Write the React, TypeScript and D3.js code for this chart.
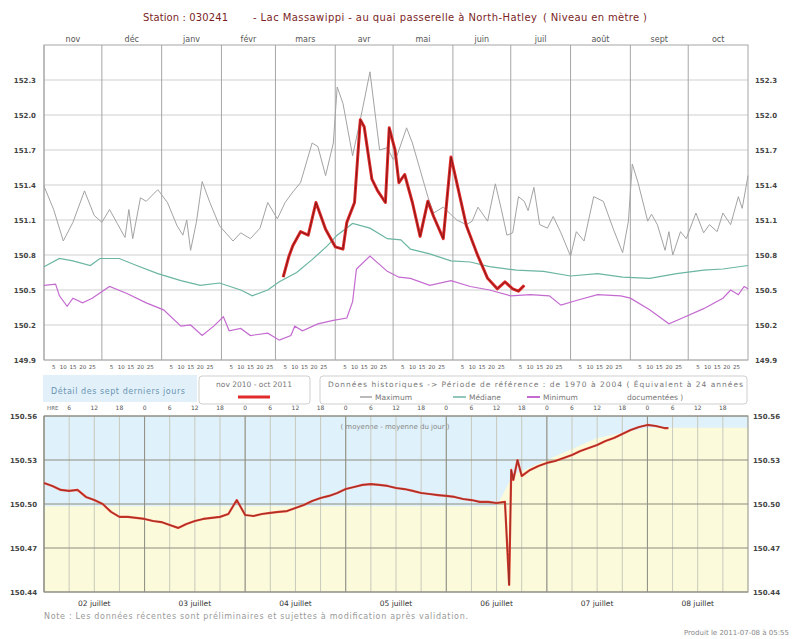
import React from 'react';
import * as d3 from 'd3';

// --- annual chart (days since 2010-11-01, level in m) ---
const monthLabels = ['nov', 'déc', 'janv', 'févr', 'mars', 'avr', 'mai', 'juin', 'juil', 'août', 'sept', 'oct'];
const levelTicks = ['149.9', '150.2', '150.5', '150.8', '151.1', '151.4', '151.7', '152.0', '152.3'];
const dayTicks = [5, 10, 15, 20, 25];

const maxDays = [0, 5, 10, 15, 21, 26, 30, 34, 38, 42, 44, 46, 50, 53, 59, 64, 69, 72, 74, 76, 79, 82, 86, 91, 98, 102, 107, 112, 116, 121, 125, 129, 133, 139, 142, 146, 150, 152, 155, 160, 165, 169, 174, 178, 181, 183, 188, 191, 195, 199, 202, 207, 214, 219, 222, 225, 230, 234, 237, 240, 243, 246, 249, 251, 254, 257, 261, 264, 268, 273, 276, 280, 285, 290, 295, 300, 303, 305, 308, 313, 315, 318, 322, 324, 326, 330, 333, 338, 342, 345, 349, 352, 356, 360, 362, 365];
const maxLevel = [151.39, 151.19, 150.92, 151.08, 151.35, 151.14, 151.08, 151.19, 151.07, 150.95, 151.19, 150.94, 151.29, 151.26, 151.36, 151.25, 151.05, 150.97, 151.10, 150.84, 151.08, 151.43, 151.25, 151.05, 150.92, 150.99, 150.94, 151.03, 151.25, 151.11, 151.25, 151.34, 151.42, 151.76, 151.73, 151.48, 151.76, 152.24, 152.10, 151.65, 152.04, 152.37, 151.70, 151.72, 151.62, 151.65, 151.89, 151.76, 151.53, 151.30, 151.16, 151.21, 151.10, 151.06, 151.09, 151.21, 151.09, 151.41, 151.20, 150.97, 150.99, 151.30, 151.26, 151.18, 151.38, 151.06, 151.03, 151.13, 150.99, 150.79, 151.00, 150.92, 151.30, 151.26, 151.03, 150.82, 151.09, 151.58, 151.42, 151.09, 151.15, 151.06, 150.84, 151.00, 150.80, 151.00, 150.94, 151.16, 150.99, 151.06, 151.00, 151.16, 151.06, 151.30, 151.20, 151.48];

const medDays = [0, 8, 15, 24, 29, 39, 48, 59, 71, 81, 91, 102, 108, 116, 122, 131, 139, 147, 152, 160, 169, 178, 185, 190, 200, 211, 221, 231, 245, 259, 273, 287, 300, 314, 328, 342, 352, 365];
const medLevel = [150.70, 150.77, 150.75, 150.71, 150.77, 150.77, 150.71, 150.64, 150.58, 150.54, 150.56, 150.50, 150.45, 150.50, 150.57, 150.65, 150.76, 150.88, 150.97, 151.07, 151.03, 150.94, 150.93, 150.85, 150.81, 150.75, 150.74, 150.70, 150.67, 150.66, 150.62, 150.64, 150.61, 150.60, 150.64, 150.67, 150.68, 150.71];

const minDays = [0, 6, 8, 12, 15, 20, 25, 34, 43, 53, 62, 71, 76, 82, 88, 93, 96, 102, 107, 116, 122, 128, 130, 134, 142, 150, 157, 160, 162, 169, 178, 184, 190, 200, 211, 221, 231, 242, 252, 262, 268, 276, 287, 299, 304, 314, 324, 331, 342, 352, 356, 360, 363, 365];
const minLevel = [150.54, 150.55, 150.45, 150.36, 150.43, 150.39, 150.43, 150.53, 150.47, 150.39, 150.33, 150.19, 150.20, 150.11, 150.19, 150.27, 150.15, 150.17, 150.11, 150.13, 150.07, 150.11, 150.19, 150.15, 150.21, 150.24, 150.26, 150.40, 150.68, 150.79, 150.66, 150.61, 150.60, 150.54, 150.58, 150.53, 150.50, 150.45, 150.46, 150.45, 150.37, 150.41, 150.46, 150.45, 150.43, 150.33, 150.21, 150.26, 150.34, 150.43, 150.50, 150.46, 150.53, 150.51];

const curDays = [124, 127, 129, 133, 137, 141, 146, 151, 155, 157, 161, 164, 166, 170, 173, 177, 179, 182, 184, 187, 191, 195, 199, 202, 207, 211, 214, 219, 225, 230, 235, 239, 243, 246, 249];
const curLevel = [150.61, 150.79, 150.88, 151.00, 150.97, 151.25, 151.02, 150.87, 150.85, 151.08, 151.25, 151.96, 151.90, 151.45, 151.35, 151.25, 151.89, 151.70, 151.42, 151.49, 151.25, 150.96, 151.26, 151.13, 150.94, 151.64, 151.42, 151.05, 150.79, 150.60, 150.51, 150.57, 150.51, 150.49, 150.54];

// --- last seven days (hours since 2011-07-02 00:00) ---
const detailTicks = ['150.44', '150.47', '150.50', '150.53', '150.56'];
const dayNames = ['02 juillet', '03 juillet', '04 juillet', '05 juillet', '06 juillet', '07 juillet', '08 juillet'];
const detailHours = [0, 2, 4, 6, 8, 10, 12, 14, 16, 18, 20, 22, 24, 26, 28, 30, 32, 34, 36, 38, 40, 42, 44, 46, 48, 50, 52, 54, 56, 58, 60, 62, 64, 66, 68, 70, 72, 74, 76, 78, 80, 82, 84, 86, 88, 90, 92, 94, 96, 98, 100, 102, 104, 106, 108, 110, 111, 111.5, 112, 113, 114, 116, 118, 120, 122, 124, 126, 128, 130, 132, 134, 136, 138, 140, 142, 144, 146, 148, 149];
const detailLevel = [150.5143, 150.5123, 150.5096, 150.5089, 150.5096, 150.5048, 150.5027, 150.5000, 150.4946, 150.4912, 150.4912, 150.4905, 150.4898, 150.4884, 150.4877, 150.4857, 150.4837, 150.4864, 150.4884, 150.4898, 150.4905, 150.4912, 150.4932, 150.5027, 150.4925, 150.4918, 150.4932, 150.4939, 150.4946, 150.4952, 150.4973, 150.4993, 150.5021, 150.5041, 150.5055, 150.5075, 150.5102, 150.5116, 150.5130, 150.5136, 150.5130, 150.5123, 150.5109, 150.5102, 150.5089, 150.5075, 150.5068, 150.5061, 150.5055, 150.5048, 150.5034, 150.5027, 150.5014, 150.5014, 150.5007, 150.5014, 150.4448, 150.5232, 150.5164, 150.5300, 150.5191, 150.5232, 150.5259, 150.5280, 150.5293, 150.5314, 150.5334, 150.5361, 150.5382, 150.5402, 150.5430, 150.5450, 150.5477, 150.5505, 150.5525, 150.5539, 150.5532, 150.5518, 150.5518];
const refHours = [0, 108, 112, 120, 132, 144, 168];
const refLevel = [150.4985, 150.4985, 150.520, 150.530, 150.545, 150.552, 150.552];

const FONT = 'DejaVu Sans, Verdana, sans-serif';

export default function App() {
  const L = 44, R = 748;
  const start = new Date(2010, 10, 1);
  const x = d3.scaleTime().domain([start, new Date(2011, 10, 1)]).range([L, R]);
  const y = d3.scaleLinear().domain([149.9, 152.6]).range([360, 45]);
  const dayX = (d: number) => x(d3.timeDay.offset(start, d));

  const mkLine = (days: number[], vals: number[]) =>
    d3.line<number>().x((_, i) => dayX(days[i])).y(v => y(v))(vals) || '';

  const dStart = new Date(2011, 6, 2);
  const x2 = d3.scaleTime().domain([dStart, new Date(2011, 6, 9)]).range([L, R]);
  const y2 = d3.scaleLinear().domain([150.44, 150.56]).range([592, 416]);
  const hx = (h: number) => x2(d3.timeMinute.offset(dStart, h * 60));
  const detailPath = d3.line<number>().x((_, i) => hx(detailHours[i])).y(v => y2(v))(detailLevel) || '';
  const refArea = d3.area<number>().x((_, i) => hx(refHours[i])).y0(592).y1(v => y2(v))(refLevel) || '';

  const months = d3.timeMonth.range(start, new Date(2011, 10, 1));
  const days7 = d3.timeDay.range(dStart, new Date(2011, 6, 9));
  const sixHours = d3.timeHour.every(6)!.range(dStart, new Date(2011, 6, 9));

  return (
    <svg width={794} height={639} style={{ display: 'block', fontFamily: FONT }}>
      <style>{'body{margin:0}'}</style>
      <rect width={794} height={639} fill="#fff" />

      {/* title */}
      <g fill="#7b1f1f" fontSize={10}>
        <text x={143} y={21} textLength={85}>Station : 030241</text>
        <text x={253} y={21} textLength={284}>-   Lac Massawippi - au quai passerelle à North-Hatley</text>
        <text x={543} y={21} textLength={104}>( Niveau en mètre )</text>
      </g>

      {/* month labels */}
      {months.map((m, i) => (
        <text key={'m' + i} x={(x(m) + x(d3.timeMonth.offset(m, 1))) / 2} y={42} fontSize={8} fill="#555" textAnchor="middle">
          {monthLabels[i]}
        </text>
      ))}

      {/* top grid */}
      {levelTicks.map(t => (
        <line key={'h' + t} x1={L} x2={R} y1={y(+t)} y2={y(+t)} stroke="#cfcfcf" />
      ))}
      {months.map((m, i) => (
        <line key={'v' + i} x1={x(m)} x2={x(m)} y1={45} y2={360} stroke="#a6a6a6" />
      ))}
      <rect x={L} y={45} width={R - L} height={315} fill="none" stroke="#a6a6a6" />

      {levelTicks.map(t => (
        <g key={'lt' + t} fontSize={7} fill="#444" fontWeight="bold">
          <text x={36} y={y(+t) + 3} textAnchor="end">{t}</text>
          <text x={755} y={y(+t) + 3}>{t}</text>
        </g>
      ))}
      {months.map((m, i) =>
        dayTicks.map(d => (
          <text key={'dt' + i + '-' + d} x={x(d3.timeDay.offset(m, d - 1)) + 2} y={369} fontSize={5.5} fill="#555" textAnchor="middle">
            {d}
          </text>
        ))
      )}

      {/* series */}
      <path d={mkLine(maxDays, maxLevel)} fill="none" stroke="#a3a3a3" strokeWidth={1} />
      <path d={mkLine(medDays, medLevel)} fill="none" stroke="#6bb5a3" strokeWidth={1.2} />
      <path d={mkLine(minDays, minLevel)} fill="none" stroke="#c46ad0" strokeWidth={1.2} />
      <path d={mkLine(curDays, curLevel)} fill="none" stroke="#e12a2a" strokeWidth={3} strokeLinejoin="round" />
      <path d={mkLine(curDays, curLevel)} fill="none" stroke="#7a1515" strokeWidth={0.9} strokeLinejoin="round" />

      {/* legend row */}
      <rect x={43} y={375} width={154} height={27} fill="#e2f1f9" />
      <text x={118} y={394} fontSize={8} fill="#6b93b3" textAnchor="middle" textLength={134}>Détail des sept derniers jours</text>

      <rect x={199} y={376} width={111} height={28} rx={3} fill="#fff" stroke="#cfcfcf" />
      <text x={254} y={387} fontSize={7.5} fill="#777" textAnchor="middle">nov 2010 - oct 2011</text>
      <line x1={238} x2={270} y1={397} y2={397} stroke="#e12a2a" strokeWidth={3} />

      <rect x={320} y={376} width={427} height={28} rx={3} fill="#fff" stroke="#cfcfcf" />
      <text x={328} y={387} fontSize={7.5} fill="#777" textLength={415}>
        Données historiques  -&gt;  Période de référence : de 1970 à 2004   ( Équivalent à 24 années
      </text>
      <g fontSize={7.5} fill="#777">
        <line x1={360} x2={372} y1={397} y2={397} stroke="#a3a3a3" strokeWidth={1.5} />
        <text x={375} y={400}>Maximum</text>
        <line x1={453} x2={466} y1={397} y2={397} stroke="#6bb5a3" strokeWidth={1.5} />
        <text x={469} y={400}>Médiane</text>
        <line x1={527} x2={540} y1={397} y2={397} stroke="#c46ad0" strokeWidth={2} />
        <text x={543} y={400}>Minimum</text>
        <text x={627} y={400}>documentées )</text>
      </g>

      {/* detail chart */}
      <rect x={L} y={416} width={R - L} height={176} fill="#dff1fa" />
      <path d={refArea} fill="#fbfbdc" />
      <text x={395} y={429} fontSize={7} fill="#888" textAnchor="middle">( moyenne - moyenne du jour )</text>
      {sixHours.map((t, i) => (
        <line key={'s' + i} x1={x2(t)} x2={x2(t)} y1={416} y2={592} stroke="#c9c9bd" />
      ))}
      {days7.map((t, i) => (
        <line key={'d' + i} x1={x2(t)} x2={x2(t)} y1={416} y2={592} stroke="#8f8f85" />
      ))}
      {detailTicks.map(t => (
        <line key={'dh' + t} x1={L} x2={R} y1={y2(+t)} y2={y2(+t)} stroke="#8d8d80" />
      ))}
      <rect x={L} y={416} width={R - L} height={176} fill="none" stroke="#8f8f85" />

      <path d={detailPath} fill="none" stroke="#e53a2e" strokeWidth={2.2} strokeLinejoin="round" />
      <path d={detailPath} fill="none" stroke="#6a2a22" strokeWidth={0.6} />

      <text x={47} y={410} fontSize={5.5} fill="#666">HRE</text>
      {sixHours.slice(1).map((t, i) => (
        <text key={'hl' + i} x={x2(t)} y={410} fontSize={6} fill="#555" textAnchor="middle">
          {t.getHours()}
        </text>
      ))}
      {detailTicks.map(t => (
        <g key={'dl' + t} fontSize={7} fill="#444" fontWeight="bold">
          <text x={37} y={y2(+t) + 3} textAnchor="end">{t}</text>
          <text x={753} y={y2(+t) + 3}>{t}</text>
        </g>
      ))}
      {days7.map((t, i) => (
        <text key={'dn' + i} x={x2(d3.timeHour.offset(t, 12))} y={606} fontSize={7.5} fill="#333" textAnchor="middle">
          {dayNames[i]}
        </text>
      ))}

      <text x={44} y={619} fontSize={8} fill="#999" textLength={424}>
        Note : Les données récentes sont préliminaires et sujettes à modification après validation.
      </text>
      <text x={789} y={635} fontSize={7} fill="#888" textAnchor="end">Produit le 2011-07-08 à 05:55</text>
    </svg>
  );
}
